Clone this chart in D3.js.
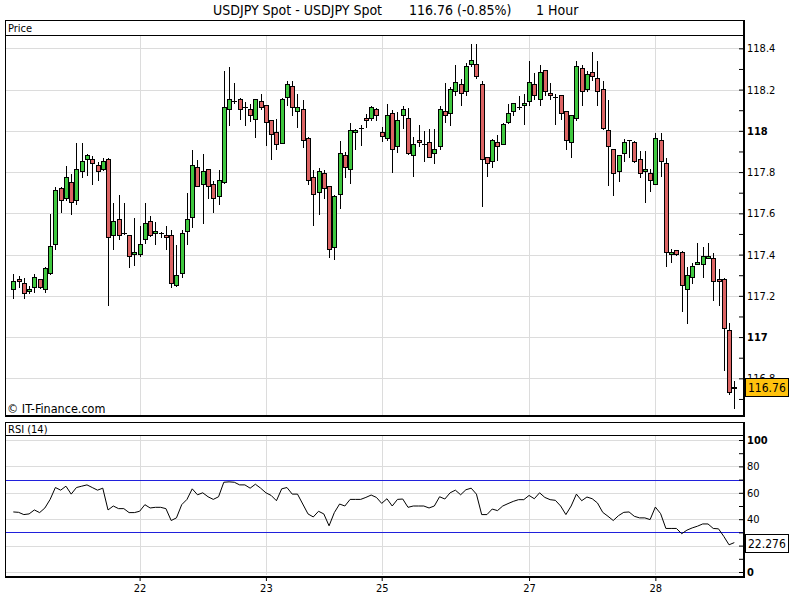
<!DOCTYPE html>
<html><head><meta charset="utf-8">
<script src="https://cdn.jsdelivr.net/npm/d3@7"></script>
<style>
html,body{margin:0;padding:0;background:#fff;}
svg{display:block;}
text{font-family:"DejaVu Sans Condensed","DejaVu Sans",sans-serif;}
</style>
</head><body>
<svg id="c" width="800" height="600"></svg>
<script>
const opens=[117.231,117.280,117.261,117.222,117.241,117.280,117.231,117.309,117.450,117.721,
117.673,117.750,117.663,117.804,117.862,117.862,117.833,117.813,117.862,117.493,
117.571,117.503,117.493,117.403,117.403,117.474,117.561,117.503,117.503,117.493,
117.493,117.251,117.309,117.513,117.581,117.823,117.741,117.813,117.741,117.683,
117.750,118.104,118.143,118.153,118.114,118.104,118.059,118.143,118.124,118.051,
117.993,117.943,118.162,118.216,118.095,118.104,117.964,117.775,117.702,117.794,
117.731,117.438,117.692,117.881,117.813,117.993,118.012,118.061,118.061,118.104,
117.993,117.964,118.085,117.925,118.075,118.061,117.881,117.954,117.935,117.944,
117.891,117.925,118.095,118.085,118.192,118.225,118.192,118.322,118.322,118.225,
117.872,117.852,117.944,117.935,118.041,118.095,118.114,118.124,118.143,118.225,
118.153,118.293,118.182,118.162,118.172,118.095,117.944,118.061,118.303,118.201,
118.284,118.255,118.201,118.002,117.910,117.804,117.891,117.954,117.944,117.862,
117.804,117.794,117.741,117.954,117.843,117.401,117.421,117.411,117.231,117.290,
117.353,117.353,117.382,117.382,117.280,117.280,117.033,116.752];
const highs=[117.309,117.299,117.290,117.251,117.309,117.282,117.343,117.602,117.733,117.733,
117.833,117.796,117.946,117.946,117.891,117.881,117.852,117.872,117.872,117.653,
117.694,117.653,117.494,117.582,117.543,117.653,117.592,117.563,117.513,117.543,
117.522,117.451,117.522,117.704,117.912,117.863,117.891,117.814,117.760,117.813,
118.293,118.313,118.235,118.162,118.143,118.133,118.154,118.182,118.125,118.052,
118.061,118.162,118.245,118.245,118.182,118.153,117.973,117.813,117.823,117.813,
117.732,117.692,117.956,117.902,118.041,118.012,118.032,118.085,118.124,118.114,
118.022,118.133,118.104,118.095,118.124,118.114,117.973,118.032,118.002,118.012,
118.012,118.124,118.235,118.216,118.322,118.255,118.332,118.424,118.424,118.245,
117.873,117.964,117.983,118.041,118.133,118.134,118.174,118.182,118.342,118.284,
118.322,118.294,118.235,118.182,118.173,118.096,118.076,118.342,118.322,118.293,
118.385,118.342,118.245,118.153,117.911,117.882,117.964,117.955,117.954,117.906,
117.906,117.818,117.993,117.993,117.872,117.430,117.422,117.421,117.343,117.363,
117.463,117.442,117.463,117.411,117.333,117.290,117.072,116.790];
const lows=[117.191,117.244,117.191,117.212,117.220,117.240,117.220,117.307,117.429,117.608,
117.663,117.598,117.644,117.775,117.784,117.741,117.760,117.812,117.157,117.429,
117.474,117.502,117.341,117.351,117.393,117.455,117.492,117.451,117.484,117.429,
117.241,117.250,117.290,117.451,117.532,117.732,117.552,117.673,117.608,117.644,
117.749,118.030,118.133,118.059,118.030,118.049,117.972,118.104,117.933,117.862,
117.910,117.942,118.124,118.075,118.020,117.923,117.741,117.542,117.598,117.673,
117.390,117.380,117.624,117.775,117.749,117.910,117.933,118.020,118.051,118.051,
117.952,117.954,117.802,117.896,118.012,117.890,117.783,117.925,117.852,117.871,
117.843,117.910,118.041,118.030,118.172,118.124,118.172,118.313,118.255,117.634,
117.783,117.823,117.857,117.934,118.036,118.075,118.104,118.032,118.124,118.153,
118.124,118.172,118.153,118.032,118.059,117.910,117.872,118.051,118.124,118.192,
118.245,118.124,118.011,117.739,117.690,117.758,117.852,117.872,117.851,117.775,
117.653,117.710,117.740,117.783,117.343,117.363,117.400,117.128,117.070,117.261,
117.352,117.290,117.381,117.181,117.157,116.839,116.722,116.658];
const closes=[117.270,117.270,117.212,117.231,117.290,117.241,117.333,117.440,117.712,117.663,
117.776,117.653,117.813,117.852,117.881,117.843,117.804,117.852,117.484,117.561,
117.493,117.503,117.393,117.412,117.451,117.552,117.493,117.513,117.503,117.484,
117.261,117.299,117.503,117.571,117.833,117.733,117.804,117.731,117.673,117.760,
118.114,118.153,118.143,118.104,118.114,118.075,118.153,118.114,118.041,117.983,
117.935,118.153,118.225,118.114,118.114,117.954,117.760,117.692,117.804,117.721,
117.429,117.683,117.891,117.823,118.002,118.002,118.012,118.051,118.114,118.075,
117.973,118.075,117.910,118.051,118.104,117.891,117.935,117.944,117.935,117.872,
117.910,118.104,118.075,118.201,118.235,118.182,118.313,118.342,118.264,117.862,
117.843,117.954,117.925,118.032,118.085,118.133,118.114,118.133,118.235,118.172,
118.284,118.192,118.172,118.162,118.085,117.954,118.075,118.313,118.192,118.274,
118.264,118.192,118.012,117.925,117.794,117.881,117.944,117.954,117.852,117.794,
117.813,117.760,117.964,117.852,117.411,117.411,117.401,117.251,117.299,117.343,
117.363,117.392,117.392,117.270,117.270,117.043,116.732,116.760];
const rsi=[45.5,45.2,43.5,44,47,45,48.5,55,64,62,
65,59,64,65,66,64,62,63.5,47,50,
48,48,45,45,46,51,48.5,49,49,48,
39,41,51,55,63,58.5,60,57,55,57,
68,68.3,68,66,66,63.5,66.5,63.5,60,58,
54,63,64,59,59,51.5,44,41.7,46,44,
35,45,51.5,50,55,55,55,56.5,58.3,56.5,
52,55.5,50,55,55.3,49,50,50,50,48.5,
50,57,55.3,60,62,58.5,62.3,63.5,59,43.5,
43.5,47.7,46.5,50,51.8,53.5,54.8,54.8,58,55.5,
60,56.5,54.8,54.3,50,43.5,50,59,54,56.8,
55.5,52.3,45.2,42.2,39,42.7,45.2,45.5,42.2,41,
41,39.7,49.2,44.2,33,33,33,29,31.7,33.4,
34.7,36.4,36.4,33,32.7,27,20.6,22.276];
const dayIndex=[24,48,70,98,122];
const dayLabels=["22","23","25","27","28"];
const priceLabels=[116.8,117,117.2,117.4,117.6,117.8,118,118.2,118.4];
const rsiGrid=[0,20,40,60,80,100];
const rsiBands=[70,30];
const titleParts=["USDJPY Spot - USDJPY Spot","116.76 (-0.85%)","1 Hour"];
const lastPrice="116.76", lastRsi="22.276";

const FONT='"DejaVu Sans Condensed","DejaVu Sans",sans-serif';
const svg=d3.select("#c");
const N=closes.length;
const x=d3.scaleLinear().domain([0,N-1]).range([13.3,734.3]);
const y=d3.scaleLinear().domain([116.8,118.4]).range([378.33,48.33]);
const yr=d3.scaleLinear().domain([0,100]).range([572,440]);
const px=v=>Math.round(v)+0.5;
const GRID="#dcdcdc", GREEN="#3fc83f", RED="#dc6464", BLUE="#2020dc";

// title
const tx=[213,409,536];
svg.append("g").selectAll("text").data(titleParts).join("text")
  .attr("x",(d,i)=>tx[i]).attr("y",15).attr("font-size",14).attr("fill","#000").text(d=>d);

// grids price
const gP=svg.append("g").attr("shape-rendering","crispEdges");
gP.selectAll("line.h").data(priceLabels).join("line").attr("class","h")
  .attr("x1",6).attr("x2",743).attr("y1",d=>px(y(d))).attr("y2",d=>px(y(d)))
  .attr("stroke",GRID);
gP.selectAll("line.v").data(dayIndex).join("line").attr("class","v")
  .attr("x1",d=>px(x(d))).attr("x2",d=>px(x(d))).attr("y1",36).attr("y2",415)
  .attr("stroke",GRID);
// grids rsi
const gR=svg.append("g").attr("shape-rendering","crispEdges");
gR.selectAll("line.h").data(rsiGrid).join("line").attr("class","h")
  .attr("x1",6).attr("x2",743).attr("y1",d=>px(yr(d))).attr("y2",d=>px(yr(d)))
  .attr("stroke",GRID);
gR.selectAll("line.v").data(dayIndex).join("line").attr("class","v")
  .attr("x1",d=>px(x(d))).attr("x2",d=>px(x(d))).attr("y1",436).attr("y2",575)
  .attr("stroke",GRID);

// candles
const cd=d3.range(N).map(i=>({i,o:opens[i],h:highs[i],l:lows[i],c:closes[i]}));
const gC=svg.append("g").attr("shape-rendering","crispEdges");
gC.selectAll("line.w").data(cd).join("line").attr("class","w")
  .attr("x1",d=>px(x(d.i))).attr("x2",d=>px(x(d.i)))
  .attr("y1",d=>px(y(d.h))).attr("y2",d=>px(y(d.l)))
  .attr("stroke","#000");
const isDoji=d=>Math.abs(d.o-d.c)<0.002;
gC.selectAll("rect").data(cd.filter(d=>!isDoji(d))).join("rect")
  .attr("x",d=>Math.round(x(d.i))-1.5).attr("width",4)
  .attr("y",d=>px(y(Math.max(d.o,d.c))))
  .attr("height",d=>Math.max(px(y(Math.min(d.o,d.c)))-px(y(Math.max(d.o,d.c))),1))
  .attr("fill",d=>d.c>=d.o?GREEN:RED).attr("stroke","#000");
gC.selectAll("line.d").data(cd.filter(isDoji)).join("line").attr("class","d")
  .attr("x1",d=>Math.round(x(d.i))-2).attr("x2",d=>Math.round(x(d.i))+3)
  .attr("y1",d=>px(y(d.c))).attr("y2",d=>px(y(d.c))).attr("stroke","#000");

// rsi bands (70 / 30)
svg.append("g").attr("shape-rendering","crispEdges")
  .selectAll("line").data(rsiBands).join("line")
  .attr("x1",6).attr("x2",743).attr("y1",d=>px(yr(d))).attr("y2",d=>px(yr(d)))
  .attr("stroke",BLUE).attr("stroke-width",1);

// rsi line
svg.append("path").datum(rsi)
  .attr("d",d3.line().x((d,i)=>x(i)).y(d=>yr(d)))
  .attr("fill","none").attr("stroke","#000").attr("stroke-width",1);

// axes
const priceTicks=d3.range(1167,1185).map(v=>v/10);
const fmtP=d=>Number.isInteger(d)?String(d):d.toFixed(1);
const ax=svg.append("g").attr("transform","translate(744,0)")
  .call(d3.axisRight(y).tickValues(priceTicks).tickSize(-5).tickPadding(3)
    .tickFormat(d=>priceLabels.some(p=>Math.abs(p-d)<1e-6)?fmtP(d):""));
ax.select(".domain").remove();
ax.selectAll("text").attr("font-family",FONT).attr("font-size",11)
  .attr("font-weight",d=>Number.isInteger(d)?"bold":null);
ax.selectAll("line").attr("stroke","#000");

const ar=svg.append("g").attr("transform","translate(744,0)")
  .call(d3.axisRight(yr).tickValues(d3.range(0,101,10)).tickSize(-5).tickPadding(3)
    .tickFormat(d=>d%20===0?String(d):""));
ar.select(".domain").remove();
ar.selectAll("text").attr("font-family",FONT).attr("font-size",11)
  .attr("font-weight",d=>(d===0||d===100)?"bold":null);

const axx=svg.append("g").attr("transform","translate(0,577)")
  .call(d3.axisBottom(x).tickValues(dayIndex).tickSize(4).tickPadding(3)
    .tickFormat((d,i)=>dayLabels[i]));
axx.select(".domain").remove();
axx.selectAll("text").attr("font-family",FONT).attr("font-size",11);

// frames
const fr=svg.append("g").attr("fill","none").attr("stroke","#000").attr("shape-rendering","crispEdges");
fr.append("path").attr("d","M5.5,416V20.5H744.5").attr("stroke-width",1);
fr.append("line").attr("x1",5.5).attr("x2",744).attr("y1",35.5).attr("y2",35.5);
fr.append("line").attr("x1",5).attr("x2",745).attr("y1",416).attr("y2",416).attr("stroke-width",2);
fr.append("line").attr("x1",744).attr("x2",744).attr("y1",20).attr("y2",417).attr("stroke-width",2);
fr.append("path").attr("d","M5.5,576V422.5H744.5");
fr.append("line").attr("x1",5.5).attr("x2",744).attr("y1",435.5).attr("y2",435.5);
fr.append("line").attr("x1",5).attr("x2",745).attr("y1",576.5).attr("y2",576.5).attr("stroke-width",2);
fr.append("line").attr("x1",744).attr("x2",744).attr("y1",422).attr("y2",577.5).attr("stroke-width",2);

// panel labels
svg.append("text").attr("x",8).attr("y",32).attr("font-size",11).text("Price");
svg.append("text").attr("x",8).attr("y",433).attr("font-size",11).text("RSI (14)");
svg.append("text").attr("x",7).attr("y",413).attr("font-size",12.5).text("© IT-Finance.com");

// value boxes
const yl=y(+lastPrice);
svg.append("rect").attr("x",745.5).attr("y",Math.round(yl-9)+0.5).attr("width",43).attr("height",18)
  .attr("fill","#ffc20e").attr("stroke","#000");
svg.append("text").attr("x",748).attr("y",Math.round(yl)+4.5).attr("font-size",12).text(lastPrice);
const yrl=yr(+lastRsi);
svg.append("rect").attr("x",745.5).attr("y",Math.round(yrl-9)+0.5).attr("width",43).attr("height",18)
  .attr("fill","#fff").attr("stroke","#000");
svg.append("text").attr("x",748).attr("y",Math.round(yrl)+4.5).attr("font-size",12).text(lastRsi);
</script>
</body></html>
